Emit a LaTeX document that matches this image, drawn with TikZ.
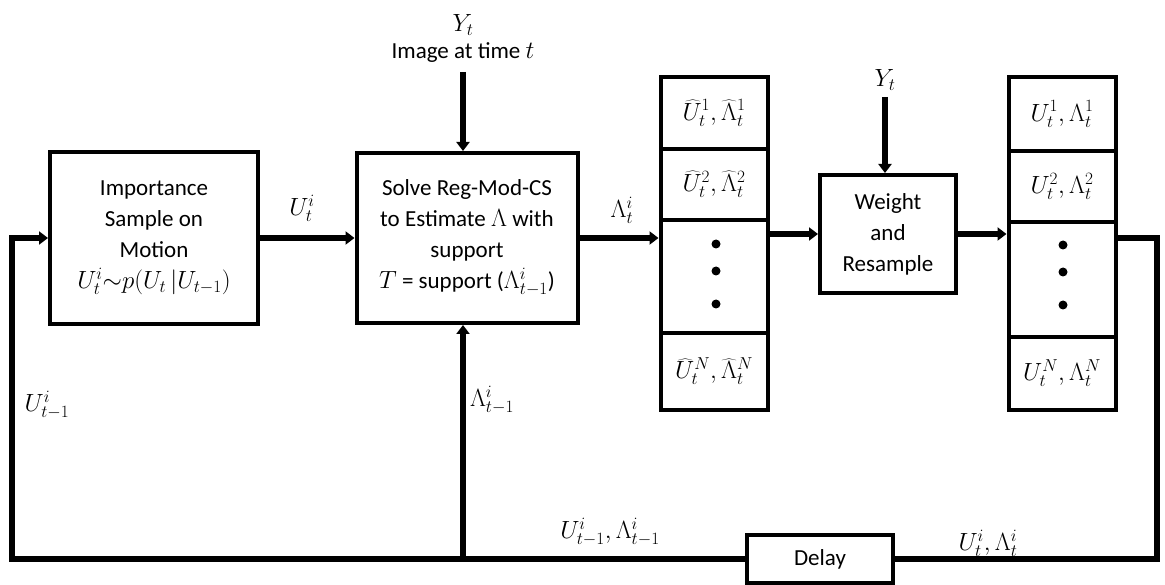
\documentclass[tikz,border=0pt]{standalone}
\usepackage{fontspec}
\setmainfont{Carlito}
\usetikzlibrary{arrows.meta,calc}
\begin{document}
\begin{tikzpicture}[x=1pt,y=-1pt,
  box/.style={draw,line width=4pt,align=center,inner sep=0pt,font=\fontsize{23}{31}\selectfont},
  cell/.style={draw,line width=4pt,inner sep=0pt,minimum width=107pt,font=\fontsize{23}{31}\selectfont},
  conn/.style={line width=5.5pt},
  arr/.style={conn,-{Triangle[length=9pt,width=13pt]}},
  lbl/.style={inner sep=0pt,font=\fontsize{23}{31}\selectfont},
  dot/.style={circle,fill=black,inner sep=0pt,minimum size=9pt}]
\useasboundingbox (0,0) rectangle (1165,585);

% main blocks
\node[box,minimum width=208pt,minimum height=172pt] (b1) at (154,238)
  {Importance\\Sample on\\Motion\\$U_t^i{\sim}p(U_t\,|U_{t-1})$};
\node[box,minimum width=221pt,minimum height=170pt] (b2) at (467,238)
  {Solve Reg-Mod-CS\\to Estimate $\Lambda$ with\\support\\$T$ = support ($\Lambda_{t-1}^i$)};
\node[box,minimum width=136pt,minimum height=118pt] (w) at (888,234)
  {Weight\\and\\Resample};
\node[box,minimum width=146pt,minimum height=48pt] (d) at (820,559) {Delay};

% stack 1
\node[cell,minimum height=72pt] (s11) at (714,113) {$\widehat{U}_t^1,\widehat{\Lambda}_t^1$};
\node[cell,minimum height=71pt] (s12) at (714,184.5) {$\widehat{U}_t^2,\widehat{\Lambda}_t^2$};
\node[cell,minimum height=113pt] (s13) at (714,276.5) {};
\node[cell,minimum height=77pt] (s14) at (714,371.5) {$\widehat{U}_t^N,\widehat{\Lambda}_t^N$};
\node[dot] (d11) at (716,244) {};
\node[dot] (d12) at (716,271) {};
\node[dot] (d13) at (716,304) {};

% stack 2
\node[cell,minimum height=74pt] (s21) at (1062,114) {$U_t^1,\Lambda_t^1$};
\node[cell,minimum height=71pt] (s22) at (1062,186.5) {$U_t^2,\Lambda_t^2$};
\node[cell,minimum height=115pt] (s23) at (1062,279.5) {};
\node[cell,minimum height=73pt] (s24) at (1062,373.5) {$U_t^N,\Lambda_t^N$};
\node[dot] (d21) at (1063,245) {};
\node[dot] (d22) at (1063,272) {};
\node[dot] (d23) at (1063,305) {};

% top inputs
\node[lbl] (y1) at (463,25) {$Y_t$};
\node[lbl] (img) at (463,53) {Image at time $t$};
\node[lbl] (y2) at (885,80) {$Y_t$};

% labels
\node[lbl] (lu) at (302,208) {$U_t^i$};
\node[lbl] (ll) at (622,210) {$\Lambda_t^i$};
\node[lbl] (lu1) at (47,405) {$U_{t-1}^i$};
\node[lbl] (ll1) at (492,400) {$\Lambda_{t-1}^i$};
\node[lbl] (lul1) at (610,532) {$U_{t-1}^i,\Lambda_{t-1}^i$};
\node[lbl] (lul) at (988,543) {$U_t^i,\Lambda_t^i$};

% coordinates
\coordinate (r1) at (1157,238);
\coordinate (r2) at (1157,559);
\coordinate (bl) at (12,559);
\coordinate (j) at (463,559);
\coordinate (ytop) at (463,72);
\coordinate (wtop) at (885,97);

% connectors
\draw[arr] (b1.east) -- (b2.west |- b1.east);
\draw[arr] (b2.east) -- (s13.west |- b2.east);
\draw[arr] (s13.east |- w.west) -- (w.west);
\draw[arr] (w.east) -- (s23.west |- w.east);
\draw[arr] (ytop) -- (ytop |- b2.north);
\draw[arr] (wtop) -- (wtop |- w.north);
\draw[conn] (s23.east |- r1) -- (r1) -- (r2) -- (d.east);
\draw[arr] (d.west) -- (bl) |- (b1.west);
\draw[arr] (j) -- (j |- b2.south);
\end{tikzpicture}
\end{document}
